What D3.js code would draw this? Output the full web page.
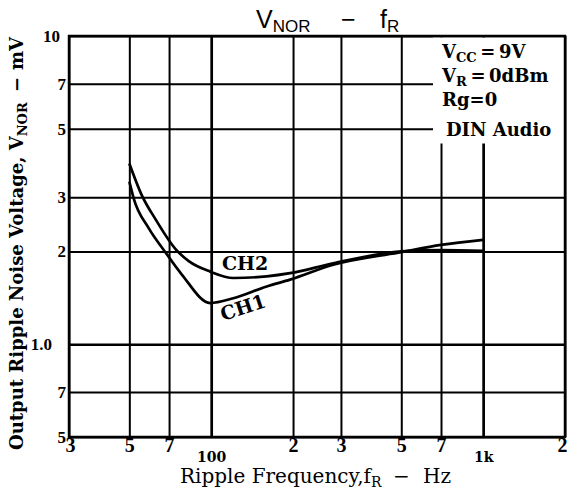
<!DOCTYPE html>
<html>
<head>
<meta charset="utf-8">
<script src="https://cdn.jsdelivr.net/npm/d3@7"></script>
<style>
  body { margin: 0; background: #fff; }
  svg { display: block; }
</style>
</head>
<body>
<div class="canva"></div>
<script>
// ticks / gridlines
const xTickVals = [30, 50, 70, 100, 200, 300, 500, 700, 1000, 2000];
const xTickText = ["3", "5", "7", "100", "2", "3", "5", "7", "1k", "2"];
const yTickVals = [0.5, 0.7, 1, 2, 3, 5, 7, 10];
const yTickText = ["5", "7", "1.0", "2", "3", "5", "7", "10"];

// curves (Hz, mV)
const freqCH1 = [50, 51.9, 58.9, 67.5, 78.1, 99.2, 120.6, 160, 195, 281, 500, 700, 1000];
const voltCH1 = [3.37, 2.97, 2.38, 2.0, 1.68, 1.36, 1.41, 1.54, 1.62, 1.81, 1.99, 2.10, 2.18];
const freqCH2 = [50, 55.7, 62.3, 73.8, 82.7, 99.2, 120.6, 160, 195, 281, 500, 700, 1000];
const voltCH2 = [3.86, 3.03, 2.55, 2.04, 1.86, 1.72, 1.64, 1.66, 1.70, 1.83, 2.0, 2.02, 2.01];

const W = 570, H = 493;
const pLeft = 69, pRight = 565, pTop = 36, pBottom = 437;

const svg = d3.select(".canva").append("svg")
    .attr("width", W)
    .attr("height", H);

svg.append("rect").attr("width", W).attr("height", H).attr("fill", "#fff");

const x = d3.scaleLog().domain([30, 2000]).range([pLeft, pRight]);
const y = d3.scaleLog().domain([0.5, 10]).range([pBottom, pTop]);

// grid
const gx = svg.append("g")
    .attr("transform", `translate(0,${pBottom})`)
    .call(d3.axisBottom(x).tickValues(xTickVals).tickSize(-(pBottom - pTop)).tickFormat(""));
gx.select(".domain").remove();
gx.selectAll("line")
    .attr("stroke", "#000")
    .attr("stroke-width", d => (d === 100 || d === 1000) ? 2.7 : 2);

const gy = svg.append("g")
    .attr("transform", `translate(${pLeft},0)`)
    .call(d3.axisLeft(y).tickValues(yTickVals).tickSize(-(pRight - pLeft)).tickFormat(""));
gy.select(".domain").remove();
gy.selectAll("line")
    .attr("stroke", "#000")
    .attr("stroke-width", d => d === 1 ? 2.4 : 2);

// white box behind the conditions text
svg.append("rect")
    .attr("x", 433).attr("y", pTop + 1.5)
    .attr("width", pRight - 434).attr("height", 106)
    .attr("fill", "#fff");

// frame
svg.append("rect")
    .attr("x", pLeft).attr("y", pTop)
    .attr("width", pRight - pLeft).attr("height", pBottom - pTop)
    .attr("fill", "none")
    .attr("stroke", "#000")
    .attr("stroke-width", 2.5);

// curves
const line = d3.line()
    .x(d => x(d[0]))
    .y(d => y(d[1]))
    .curve(d3.curveMonotoneX);

svg.append("path")
    .datum(freqCH1.map((f, i) => [f, voltCH1[i]]))
    .attr("d", line)
    .attr("fill", "none")
    .attr("stroke", "#000")
    .attr("stroke-width", 2.7);

svg.append("path")
    .datum(freqCH2.map((f, i) => [f, voltCH2[i]]))
    .attr("d", line)
    .attr("fill", "none")
    .attr("stroke", "#000")
    .attr("stroke-width", 2.7);

// tick labels
const tickFont = "'Liberation Serif', 'Times New Roman', serif";
const condFont = "'DejaVu Serif', serif";

const ax = svg.append("g")
    .attr("transform", `translate(0,${pBottom})`)
    .call(d3.axisBottom(x).tickValues(xTickVals).tickSize(0).tickPadding(0)
        .tickFormat((d, i) => xTickText[i]));
ax.select(".domain").remove();
ax.selectAll("text")
    .attr("font-family", (d, i) => xTickText[i].length > 1 ? condFont : tickFont)
    .attr("font-weight", "bold")
    .attr("font-size", (d, i) => xTickText[i].length > 1 ? 14 : 20)
    .attr("fill", "#000")
    .attr("dy", (d, i) => xTickText[i].length > 1 ? 25 : 15)
    .attr("dx", (d, i) => i === xTickVals.length - 1 ? -3 : (i === 0 ? 1 : 0));

const ay = svg.append("g")
    .attr("transform", `translate(${pLeft},0)`)
    .call(d3.axisLeft(y).tickValues(yTickVals).tickSize(0).tickPadding(3)
        .tickFormat((d, i) => yTickText[i]));
ay.select(".domain").remove();
ay.selectAll("text")
    .attr("font-family", tickFont)
    .attr("font-weight", "bold")
    .attr("font-size", 17)
    .attr("fill", "#000")
    .attr("dx", (d, i) => yTickText[i] === "1.0" ? -14 : yTickText[i] === "10" ? -6 : 0);

// title
const title = svg.append("text")
    .attr("x", 256).attr("y", 28)
    .attr("font-family", "'Liberation Sans', Arial, sans-serif")
    .attr("font-size", 25)
    .attr("fill", "#000");
title.append("tspan").text("V");
title.append("tspan").attr("font-size", 17).attr("dy", 4).text("NOR");
title.append("tspan").attr("x", 341).attr("dy", -4).text("−");
title.append("tspan").attr("x", 380).text("f");
title.append("tspan").attr("font-size", 17).attr("dy", 4).text("R");

// conditions
const cond = [
    { y: 58, parts: [["V", 0], ["CC", 1], ["\u2009=\u20099V", 0]] },
    { y: 82, parts: [["V", 0], ["R", 1], ["\u2009=\u20090dBm", 0]] },
    { y: 106, parts: [["Rg=0", 0]] },
    { y: 136, parts: [["DIN Audio", 0]] }
];
cond.forEach((c, k) => {
    const t = svg.append("text")
        .attr("x", k === 3 ? 446 : 442).attr("y", c.y)
        .attr("font-family", condFont)
        .attr("font-weight", "bold")
        .attr("font-size", 18)
        .attr("fill", "#000");
    c.parts.forEach((p, i) => {
        const prevSub = i > 0 && c.parts[i - 1][1] === 1;
        t.append("tspan")
            .attr("font-size", p[1] ? 13 : 18)
            .attr("dy", p[1] ? 4 : (prevSub ? -4 : 0))
            .text(p[0]);
    });
});

// curve labels
svg.append("text")
    .attr("x", 222).attr("y", 270)
    .attr("font-family", condFont)
    .attr("font-weight", "bold")
    .attr("font-size", 19)
    .attr("fill", "#000")
    .text("CH2");

svg.append("text")
    .attr("transform", "translate(223,321) rotate(-18)")
    .attr("font-family", condFont)
    .attr("font-weight", "bold")
    .attr("font-size", 19)
    .attr("fill", "#000")
    .text("CH1");

// axis titles
const xt = svg.append("text")
    .attr("x", 180).attr("y", 483)
    .attr("font-family", condFont)
    .attr("font-size", 20)
    .attr("fill", "#000");
xt.append("tspan").text("Ripple Frequency,f");
xt.append("tspan").attr("font-size", 14).attr("dy", 4).text("R");
xt.append("tspan").attr("x", 393).attr("dy", -4).text("−");
xt.append("tspan").attr("x", 423).text("Hz");

const yt = svg.append("text")
    .attr("transform", "translate(23,450) rotate(-90)")
    .attr("font-family", condFont)
    .attr("font-weight", "bold")
    .attr("font-size", 18)
    .attr("fill", "#000");
yt.append("tspan").text("Output Ripple Noise Voltage, V");
yt.append("tspan").attr("font-size", 13).attr("dy", 4).text("NOR");
yt.append("tspan").attr("x", 358).attr("dy", -4).text("−");
yt.append("tspan").attr("x", 380).text("mV");
</script>
</body>
</html>
